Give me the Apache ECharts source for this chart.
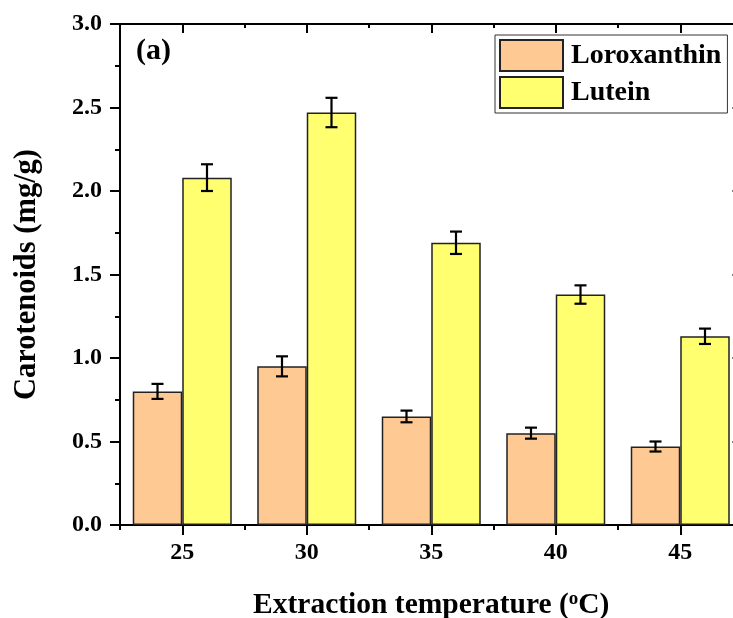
<!DOCTYPE html>
<html>
<head>
<meta charset="utf-8">
<script src="https://cdn.jsdelivr.net/npm/echarts@6/dist/echarts.min.js"></script>
<style>
html,body{margin:0;padding:0;background:#fff;}
#chart{width:733px;height:618px;}
</style>
</head>
<body>
<div id="chart"></div>
<script>
const categories = ['25', '30', '35', '40', '45'];
const loroxanthin = [0.80, 0.95, 0.65, 0.55, 0.47];
const loroxanthinErr = [0.045, 0.06, 0.035, 0.033, 0.03];
const lutein = [2.08, 2.47, 1.69, 1.38, 1.13];
const luteinErr = [0.08, 0.088, 0.067, 0.055, 0.046];
const yMin = 0, yMax = 3, yInterval = 0.5;

const FONT = "'Liberation Serif', 'Times New Roman', serif";
const BAR_W = 49.5;
const AXIS_LINE = { show: true, lineStyle: { color: '#000', width: 2 } };

const chart = echarts.init(document.getElementById('chart'), null, { renderer: 'canvas' });

function errRender(side) {
  return function (params, api) {
    const i = api.value(0), v = api.value(1), e = api.value(2);
    const top = api.coord([i, v + e]);
    const bot = api.coord([i, v - e]);
    const x = top[0] + side * BAR_W / 2;
    const cap = 6;
    const st = { stroke: '#000', lineWidth: 2.2 };
    return {
      type: 'group',
      children: [
        { type: 'line', shape: { x1: x, y1: top[1], x2: x, y2: bot[1] }, style: st },
        { type: 'line', shape: { x1: x - cap, y1: top[1], x2: x + cap, y2: top[1] }, style: st },
        { type: 'line', shape: { x1: x - cap, y1: bot[1], x2: x + cap, y2: bot[1] }, style: st }
      ]
    };
  };
}

const option = {
  backgroundColor: '#fff',
  animation: false,
  grid: { left: 120, right: -9.5, top: 24, bottom: 93, outerBoundsMode: 'none', containLabel: false },
  legend: {
    data: ['Loroxanthin', 'Lutein'],
    orient: 'vertical',
    left: 495, top: 35,
    itemWidth: 63, itemHeight: 31, itemGap: 4,
    padding: [4, 6, 4, 4],
    borderColor: '#333', borderWidth: 1,
    icon: 'rect',
    textStyle: { fontFamily: FONT, fontWeight: 'bold', fontSize: 28, color: '#000', padding: [0, 0, 0, 3] }
  },
  graphic: [{
    type: 'text', left: 136, top: 36,
    style: { text: '(a)', font: "bold 30px 'Liberation Serif', 'Times New Roman', serif", fill: '#000' }
  }],
  xAxis: [
    {
      type: 'category', data: categories, position: 'bottom',
      axisLine: AXIS_LINE,
      axisTick: { show: true, alignWithLabel: true, inside: false, length: 10, lineStyle: { color: '#000', width: 2 } },
      axisLabel: { fontFamily: FONT, fontWeight: 'bold', fontSize: 24, color: '#000', margin: 16 },
      name: 'Extraction temperature ({sup|o}C)',
      nameLocation: 'middle', nameGap: 65,
      nameTextStyle: {
        fontFamily: FONT, fontWeight: 'bold', fontSize: 29.5, color: '#000',
        rich: { sup: { fontFamily: FONT, fontWeight: 'bold', fontSize: 19, color: '#000', verticalAlign: 'top', padding: [0, 0, 12, 0] } }
      },
      splitLine: { show: false }
    },
    {
      type: 'category', data: categories, position: 'bottom', gridIndex: 0,
      axisLine: { show: false },
      axisTick: { show: true, inside: false, length: 5, lineStyle: { color: '#000', width: 2 } },
      axisLabel: { show: false }, splitLine: { show: false }
    },
    {
      type: 'category', data: categories, position: 'top',
      axisLine: AXIS_LINE,
      axisTick: { show: true, alignWithLabel: true, inside: true, length: 9, lineStyle: { color: '#000', width: 2 } },
      axisLabel: { show: false }, splitLine: { show: false }
    },
    {
      type: 'category', data: categories, position: 'top',
      axisLine: { show: false },
      axisTick: { show: true, inside: true, length: 4, lineStyle: { color: '#000', width: 2 } },
      axisLabel: { show: false }, splitLine: { show: false }
    }
  ],
  yAxis: [
    {
      type: 'value', min: yMin, max: yMax, interval: yInterval, position: 'left',
      axisLine: AXIS_LINE,
      axisTick: { show: true, inside: false, length: 10, lineStyle: { color: '#000', width: 2 } },
      minorTick: { show: true, splitNumber: 2, length: 5, lineStyle: { color: '#000', width: 2 } },
      axisLabel: { fontFamily: FONT, fontWeight: 'bold', fontSize: 24, color: '#000', margin: 18, formatter: v => v.toFixed(1) },
      splitLine: { show: false },
      name: 'Carotenoids (mg/g)', nameLocation: 'middle', nameGap: 77, nameRotate: 90,
      nameTextStyle: { fontFamily: FONT, fontWeight: 'bold', fontSize: 30.5, color: '#000' }
    },
    {
      type: 'value', min: yMin, max: yMax, interval: yInterval, position: 'right',
      axisLine: AXIS_LINE,
      axisTick: { show: true, inside: true, length: 10, lineStyle: { color: '#000', width: 2 } },
      minorTick: { show: false },
      axisLabel: { show: false }, splitLine: { show: false }
    }
  ],
  series: [
    {
      name: 'Loroxanthin', type: 'bar', xAxisIndex: 0, yAxisIndex: 0,
      data: loroxanthin, barWidth: BAR_W, barGap: '0%',
      itemStyle: { color: '#FFC994', borderColor: '#222', borderWidth: 1.5 }
    },
    {
      name: 'Lutein', type: 'bar', xAxisIndex: 0, yAxisIndex: 0,
      data: lutein, barWidth: BAR_W, barGap: '0%',
      itemStyle: { color: '#FFFF70', borderColor: '#222', borderWidth: 1.5 }
    },
    {
      type: 'custom', xAxisIndex: 0, yAxisIndex: 0, z: 5,
      renderItem: errRender(-1),
      data: categories.map((c, i) => [i, loroxanthin[i], loroxanthinErr[i]])
    },
    {
      type: 'custom', xAxisIndex: 0, yAxisIndex: 0, z: 5,
      renderItem: errRender(1),
      data: categories.map((c, i) => [i, lutein[i], luteinErr[i]])
    }
  ]
};
chart.setOption(option);
</script>
</body>
</html>
